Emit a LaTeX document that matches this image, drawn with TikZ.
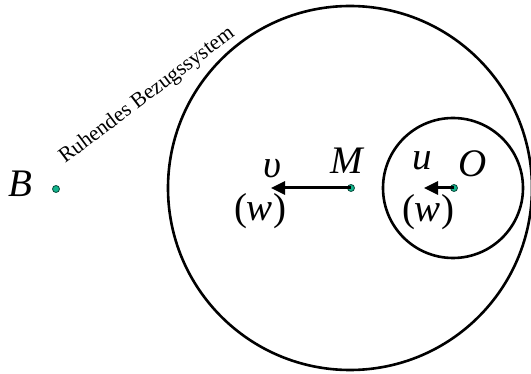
\documentclass[tikz,border=0pt]{standalone}
\usepackage{fontspec}
\setmainfont{Liberation Serif}
\usetikzlibrary{arrows.meta}
\definecolor{dotfill}{HTML}{12B48C}
\definecolor{dotedge}{HTML}{0B4A3C}
\tikzset{
  pt/.style={circle,draw=dotedge,fill=dotfill,line width=0.8pt,inner sep=0pt,minimum size=7pt},
  lbl/.style={font=\fontsize{39}{42}\selectfont\itshape,inner sep=0pt,anchor=base},
  ring/.style={draw,line width=2.6pt},
  vel/.style={line width=3pt,-{Triangle[length=14pt,width=13pt]}}
}
\begin{document}
\begin{tikzpicture}[x=1pt,y=-1pt]
\useasboundingbox (0,0) rectangle (531,374);
\draw[ring] (350,188) circle (182);
\draw[ring] (453,188) circle (70);
\node[pt] (B) at (56,189) {};
\node[pt] (M) at (351,188) {};
\node[pt] (O) at (454,188) {};
\coordinate (vt) at (271,188);
\coordinate (ut) at (424,188);
\draw[vel] (M.center) -- (vt);
\draw[vel] (O.center) -- (ut);
\node[lbl] (lB) at (20,197) {B};
\node[lbl] (lM) at (347,174) {M};
\node[lbl] (lv) at (272,178) {υ};
\node[lbl] (lw1) at (260,221) {\upshape(\itshape w\upshape)};
\node[lbl] (lu) at (422,170) {u};
\node[lbl] (lO) at (473,177) {O};
\node[lbl] (lw2) at (428,222) {\upshape(\itshape w\upshape)};
\node[font=\fontsize{21.5}{24}\selectfont,inner sep=0pt,anchor=base west,rotate=37] (rb) at (65,164) {Ruhendes Bezugssystem};
\end{tikzpicture}
\end{document}
